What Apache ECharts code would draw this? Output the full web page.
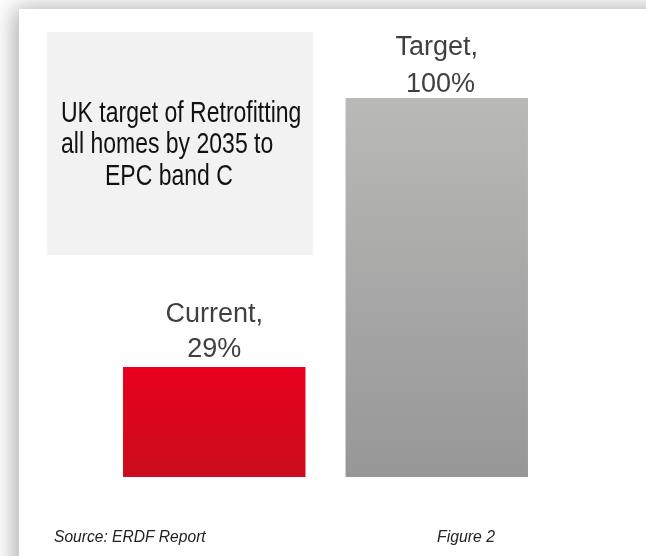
<!DOCTYPE html>
<html>
<head>
<meta charset="utf-8">
<script src="https://cdn.jsdelivr.net/npm/echarts@6/dist/echarts.min.js"></script>
<style>
html,body{margin:0;padding:0;background:#ffffff;}
#chart{width:646px;height:556px;}
</style>
</head>
<body>
<div id="chart"></div>
<script>
const categories = ['Current', 'Target'];
const values = [29, 100];
const boxLines = ['UK target of Retrofitting', 'all homes by 2035 to', 'EPC band C'];
const sourceText = 'Source: ERDF Report';
const figureText = 'Figure 2';

const FONT = '"Liberation Sans", Arial, sans-serif';
const chart = echarts.init(document.getElementById('chart'), null, {renderer: 'canvas'});

const barColors = [
  new echarts.graphic.LinearGradient(0, 0, 0, 1, [
    {offset: 0, color: '#e8001f'}, {offset: 1, color: '#cb0c1c'}
  ]),
  new echarts.graphic.LinearGradient(0, 0, 0, 1, [
    {offset: 0, color: '#b9b9b8'}, {offset: 1, color: '#979797'}
  ])
];
const labelCfg = [
  {lineHeight: 35, distance: 0},
  {lineHeight: 37, distance: -5}
];

const boxX = [61, 61, 105];
const boxY = [114, 145.5, 177];

chart.setOption({
  animation: false,
  grid: {left: 103, right: 98, top: 98, bottom: 79},
  xAxis: {type: 'category', data: categories, show: false},
  yAxis: {type: 'value', min: 0, max: 100, show: false},
  graphic: [
    {type: 'rect', z: -10, shape: {x: 19, y: 9, width: 700, height: 700},
     style: {fill: '#ffffff', shadowBlur: 22, shadowColor: 'rgba(0,0,0,0.32)', shadowOffsetX: -5, shadowOffsetY: -1}},
    {type: 'rect', z: -5, shape: {x: 47, y: 32, width: 266, height: 223},
     style: {fill: '#f2f2f2'}}
  ].concat(boxLines.map((t, i) => ({
    type: 'text', z: 5, x: boxX[i], y: boxY[i], scaleY: 1.25,
    style: {text: t, x: 0, y: 0, verticalAlign: 'middle', align: 'left',
            font: '23px ' + FONT, fill: '#111111'}
  }))).concat([
    {type: 'text', z: 5, x: 54, y: 537, scaleY: 1.1,
     style: {text: sourceText, x: 0, y: 0, verticalAlign: 'middle', align: 'left',
             font: 'italic 15.6px ' + FONT, fill: '#222222'}},
    {type: 'text', z: 5, x: 437, y: 537, scaleY: 1.1,
     style: {text: figureText, x: 0, y: 0, verticalAlign: 'middle', align: 'left',
             font: 'italic 15.8px ' + FONT, fill: '#222222'}}
  ]),
  series: [{
    type: 'bar',
    barCategoryGap: '18%',
    data: values.map((v, i) => ({
      value: v,
      itemStyle: {color: barColors[i]},
      label: {lineHeight: labelCfg[i].lineHeight, distance: labelCfg[i].distance}
    })),
    label: {
      show: true,
      position: 'top',
      fontFamily: FONT,
      fontSize: 27,
      color: '#404040',
      align: 'center',
      formatter: p => p.name + ',\n' + (p.dataIndex === 1 ? ' ' : '') + p.value + '%'
    }
  }]
});
</script>
</body>
</html>
